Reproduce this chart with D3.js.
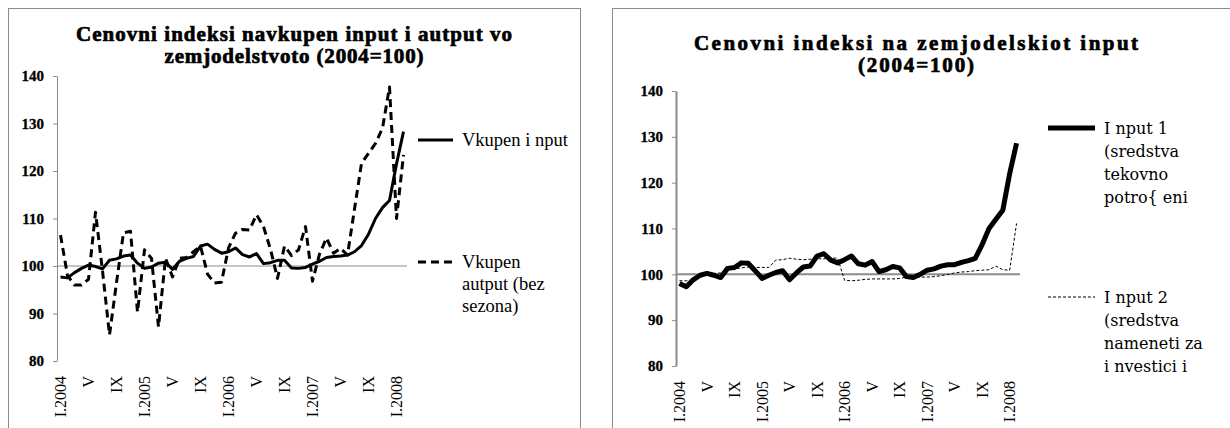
<!DOCTYPE html>
<html>
<head>
<meta charset="utf-8">
<script src="https://cdn.jsdelivr.net/npm/d3@7"></script>
<style>
  body { margin: 0; background: #fff; }
  svg { display: block; }
</style>
</head>
<body>
<div id="charts"></div>
<script>
// months I.2004 .. II.2008
var roman = ["I","II","III","IV","V","VI","VII","VIII","IX","X","XI","XII"];
var months = [];
for (var y = 2004; y <= 2008; y++) {
  for (var m = 0; m < 12; m++) {
    if (y == 2008 && m > 1) break;
    months.push(m == 0 ? "I." + y : roman[m] + "." + y);
  }
}
var yTicks = [80, 90, 100, 110, 120, 130, 140];

// left chart
var totalInput = [97.7, 97.5, 98.6, 99.5, 100.2, 99.9, 99.4, 101.2, 101.5, 102.1,
  102.3, 100.6, 99.5, 99.8, 100.6, 100.8, 99.3, 101.0, 101.6, 102.0,
  104.2, 104.6, 103.5, 102.7, 103.0, 103.8, 102.4, 101.9, 102.6, 100.5,
  100.7, 101.2, 101.2, 99.6, 99.5, 99.7, 100.4, 101.0, 101.8, 102.0,
  102.1, 102.3, 103.0, 104.3, 106.7, 110.0, 112.3, 113.8, 121.5, 128.3];
var totalOutput = [106.5, 98.0, 96.0, 96.0, 97.2, 111.3, 99.0, 85.5, 96.5, 107.0,
  107.3, 90.3, 103.4, 101.6, 87.2, 101.6, 97.7, 101.6, 101.8, 103.0,
  104.2, 98.3, 96.4, 96.6, 103.8, 106.9, 107.7, 107.6, 110.8, 108.3,
  103.5, 97.4, 104.2, 102.2, 103.4, 108.3, 96.8, 102.5, 105.9, 102.7,
  103.7, 102.3, 112.0, 121.6, 123.7, 125.8, 129.0, 137.7, 110.0, 123.4];

// right chart
var input1 = [98.0, 97.3, 98.8, 99.8, 100.2, 99.8, 99.3, 101.3, 101.5, 102.5,
  102.4, 100.8, 99.1, 99.8, 100.4, 100.8, 98.8, 100.3, 101.6, 101.8,
  104.0, 104.5, 103.1, 102.5, 103.2, 104.0, 102.3, 102.0, 102.8, 100.6,
  101.0, 101.7, 101.4, 99.5, 99.3, 100.0, 100.9, 101.2, 101.8, 102.1,
  102.1, 102.6, 103.0, 103.5, 106.5, 110.0, 112.0, 114.0, 122.0, 128.6];
var input2 = [98.6, 98.6, 98.7, 99.6, 100.1, 100.2, 100.3, 101.1, 101.2, 101.4,
  101.6, 101.5, 101.5, 101.5, 103.1, 103.2, 103.5, 103.3, 103.2, 103.3,
  103.4, 103.4, 103.6, 103.5, 98.7, 98.6, 98.7, 98.9, 99.0, 99.0,
  99.0, 99.0, 99.1, 99.4, 99.5, 99.4, 99.4, 99.5, 99.7, 100.0,
  100.3, 100.5, 100.6, 100.8, 100.9, 101.0, 101.8, 101.0, 100.9, 111.1];

var W = 1230, H = 428;
var svg = d3.select("#charts").append("svg")
  .attr("width", W)
  .attr("height", H);

var serif = "'Liberation Serif', 'Times New Roman', serif";

function tickLabel(d, i) {
  if (i % 4 != 0) return "";
  return d.indexOf("I.") == 0 ? d : d.split(".")[0];
}

function drawChart(cfg) {
  var g = svg.append("g");

  // chart frame (cut at the bottom of the picture)
  g.append("rect")
    .attr("x", cfg.box[0] + 0.5).attr("y", cfg.box[1] + 0.5)
    .attr("width", cfg.box[2]).attr("height", cfg.box[3])
    .attr("fill", "none")
    .attr("stroke", "#8c8c8c");

  var x = d3.scaleBand().domain(months).range([cfg.left, cfg.right]);
  var y = d3.scaleLinear().domain([80, 140]).range([cfg.bottom, cfg.top]);
  var cx = function(d, i) { return x(months[i]) + x.bandwidth() / 2; };

  // title, heavy and stretched like the original
  g.append("text")
    .attr("x", cfg.titleX).attr("y", cfg.titleY)
    .attr("text-anchor", "middle")
    .style("font-family", serif)
    .style("font-weight", "bold")
    .style("font-size", cfg.titleSize)
    .attr("stroke", "#000")
    .attr("stroke-width", 0.7)
    .selectAll("tspan")
    .data(cfg.title).enter().append("tspan")
    .attr("x", cfg.titleX)
    .attr("dy", function(d, i) { return i ? 22 : 0; })
    .attr("textLength", function(d, i) { return cfg.titleLen[i]; })
    .attr("lengthAdjust", "spacing")
    .text(function(d) { return d; });

  // y axis
  var yAxis = g.append("g")
    .attr("transform", "translate(" + cfg.left + ",0)")
    .call(d3.axisLeft(y).tickValues(yTicks).tickSize(4).tickSizeOuter(0).tickPadding(9));
  yAxis.select(".domain").attr("stroke", "#8c8c8c").attr("stroke-width", cfg.axisW);
  yAxis.selectAll(".tick line").attr("stroke", "#8c8c8c");
  yAxis.selectAll("text")
    .style("font-family", serif)
    .style("font-weight", "bold")
    .style("font-size", "15px")
    .attr("fill", "#000")
    .attr("stroke", "#000")
    .attr("stroke-width", 0.3);

  // category line crosses at 100
  g.append("line")
    .attr("x1", cfg.left).attr("x2", cfg.right)
    .attr("y1", y(100)).attr("y2", y(100))
    .attr("stroke", "#8c8c8c")
    .attr("stroke-width", cfg.axisW);

  // month labels, low position
  var xAxis = g.append("g")
    .attr("transform", "translate(0," + cfg.labelY + ")")
    .call(d3.axisBottom(x).tickSize(0).tickFormat(tickLabel));
  xAxis.select(".domain").remove();
  xAxis.selectAll("text")
    .attr("transform", "rotate(-90)")
    .attr("x", 0).attr("y", 0)
    .attr("dy", "0.36em")
    .attr("text-anchor", "end")
    .style("font-family", serif)
    .style("font-size", "16px")
    .attr("fill", "#000");

  // lines
  cfg.series.forEach(function(s) {
    var line = d3.line()
      .x(cx)
      .y(function(d) { return y(d); });
    g.append("path")
      .datum(s.values)
      .attr("fill", "none")
      .attr("stroke", "#000")
      .attr("stroke-width", s.width)
      .attr("stroke-dasharray", s.dash)
      .attr("stroke-linejoin", "round")
      .attr("d", line);

    // legend
    g.append("line")
      .attr("x1", cfg.legX).attr("x2", cfg.legX + cfg.legLen)
      .attr("y1", s.legY).attr("y2", s.legY)
      .attr("stroke", "#000")
      .attr("stroke-width", s.width)
      .attr("stroke-dasharray", s.dash);
    g.append("text")
      .attr("x", cfg.legX + cfg.legLen + 9)
      .attr("y", s.legY)
      .style("font-family", cfg.legFont)
      .style("font-size", cfg.legSize)
      .selectAll("tspan")
      .data(s.name).enter().append("tspan")
      .attr("x", cfg.legX + cfg.legLen + 9)
      .attr("dy", function(d, i) { return i ? cfg.legStep : "0.35em"; })
      .text(function(d) { return d; });
  });
}

drawChart({
  box: [8, 8, 572, 440],
  left: 57, right: 407, top: 76, bottom: 361, labelY: 376, axisW: 1,
  titleX: 294, titleY: 41, titleLen: [436, 259], titleSize: "21px",
  title: ["Cenovni indeksi navkupen input i autput vo", "zemjodelstvoto (2004=100)"],
  legX: 418, legLen: 35, legFont: serif, legSize: "18.5px", legStep: 22,
  series: [
    { name: ["Vkupen i nput"], values: totalInput, width: 3, dash: null, legY: 140 },
    { name: ["Vkupen", "autput (bez", "sezona)"], values: totalOutput, width: 3, dash: "8,5", legY: 262 }
  ]
});

drawChart({
  box: [612, 8, 640, 440],
  left: 676, right: 1020, top: 91, bottom: 366, labelY: 381, axisW: 2,
  titleX: 916, titleY: 50, titleLen: [444, 116], titleSize: "21px",
  title: ["Cenovni indeksi na zemjodelskiot input", "(2004=100)"],
  legX: 1048, legLen: 47, legFont: "'DejaVu Serif', serif", legSize: "16px", legStep: 23,
  series: [
    { name: ["I nput 1", "(sredstva", "tekovno", "potro{ eni"], values: input1, width: 5, dash: null, legY: 128 },
    { name: ["I nput 2", "(sredstva", "nameneti za", "i nvestici i"], values: input2, width: 1, dash: "3,2", legY: 297 }
  ]
});
</script>
</body>
</html>
